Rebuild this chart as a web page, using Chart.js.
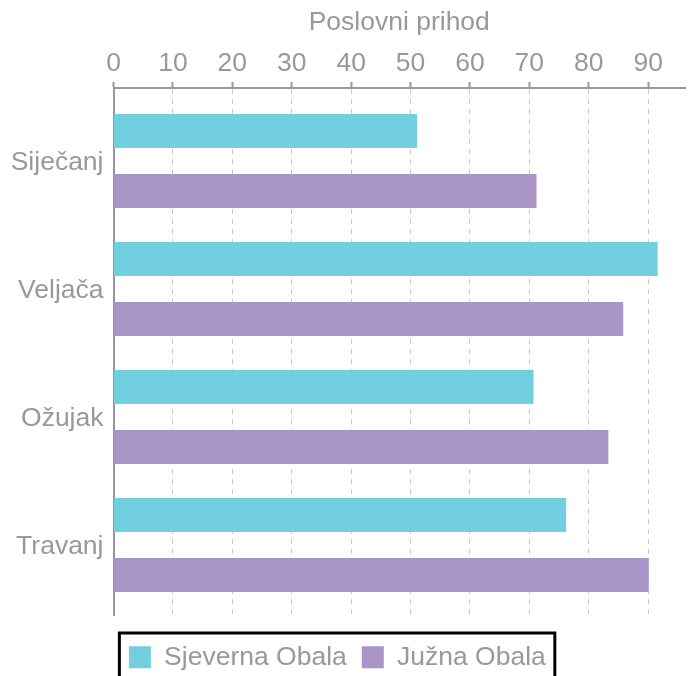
<!DOCTYPE html>
<html><head><meta charset="utf-8">
<script src="https://cdn.jsdelivr.net/npm/chart.js@4/dist/chart.umd.min.js"></script>
<style>html,body{margin:0;padding:0;background:#fff}</style>
</head><body>
<canvas id="c" width="694" height="676"></canvas>
<script>
const categories = ['Siječanj', 'Veljača', 'Ožujak', 'Travanj'];
const seriesNames = ['Sjeverna Obala', 'Južna Obala'];
const sjevernaObala = [51.1, 91.6, 70.7, 76.2];
const juznaObala = [71.2, 85.8, 83.3, 90.1];
const axisTitle = 'Poslovni prihod';
const xMax = 96.2;
const xStep = 10;

const FONT = 'Liberation Sans, Arial, Helvetica, sans-serif';
const FS = 26.5;
const GREY = '#999999';
Chart.defaults.font.family = FONT;

const legendFrame = {
  id: 'legendFrame',
  afterDraw(chart) {
    const hb = chart.legend && chart.legend.legendHitBoxes;
    if (!hb || !hb.length) return;
    const first = hb[0], last = hb[hb.length - 1];
    const ctx = chart.ctx;
    const l = first.left - 9.5, t = first.top - 11, r = last.left + last.width + 9;
    ctx.save();
    ctx.strokeStyle = '#000';
    ctx.lineWidth = 3;
    ctx.strokeRect(l, t, r - l, 90);
    ctx.restore();
  }
};

new Chart(document.getElementById('c'), {
  type: 'bar',
  data: {
    datasets: [
      { label: seriesNames[0], data: sjevernaObala.map((v, i) => ({ x: v, y: i })), backgroundColor: '#73CEE0' },
      { label: seriesNames[1], data: juznaObala.map((v, i) => ({ x: v, y: i })), backgroundColor: '#AA95C9' }
    ]
  },
  options: {
    indexAxis: 'y',
    responsive: false,
    animation: false,
    devicePixelRatio: 1,
    layout: { padding: { left: -10.3, right: 9, top: 0, bottom: -4.5 } },
    datasets: { bar: { categoryPercentage: 0.9375, barPercentage: 0.567 } },
    scales: {
      x: {
        type: 'linear', position: 'top', min: 0, max: xMax, offset: false,
        afterFit(s) { s.height = 88; },
        title: { display: true, text: axisTitle, color: GREY, font: { size: FS }, padding: { top: 7, bottom: 0 } },
        ticks: { stepSize: xStep, includeBounds: false, color: GREY, font: { size: FS }, padding: 2.5 },
        grid: { color: '#c8c8c8', lineWidth: 1, tickLength: 6, tickColor: GREY, tickWidth: 2, tickBorderDash: [], offset: false },
        border: { display: true, color: GREY, width: 2, dash: [5, 5] }
      },
      y: {
        type: 'linear', reverse: true, min: -0.57, max: 3.547, offset: false,
        afterFit(s) { s.width = 123.8; },
        ticks: { stepSize: 1, includeBounds: false, color: GREY, font: { size: FS }, padding: 10, labelOffset: 2,
                 callback: v => categories[v] },
        grid: { display: false, drawTicks: false, offset: false },
        border: { display: true, color: GREY, width: 2 }
      }
    },
    plugins: {
      legend: {
        position: 'bottom',
        labels: { boxWidth: 22, boxHeight: 22, color: GREY, font: { size: FS }, padding: 15 },
        title: { display: true, text: '', padding: 0, font: { size: 14 / 1.2 } }
      },
      tooltip: { enabled: false }
    }
  },
  plugins: [legendFrame]
});
</script>
</body></html>
